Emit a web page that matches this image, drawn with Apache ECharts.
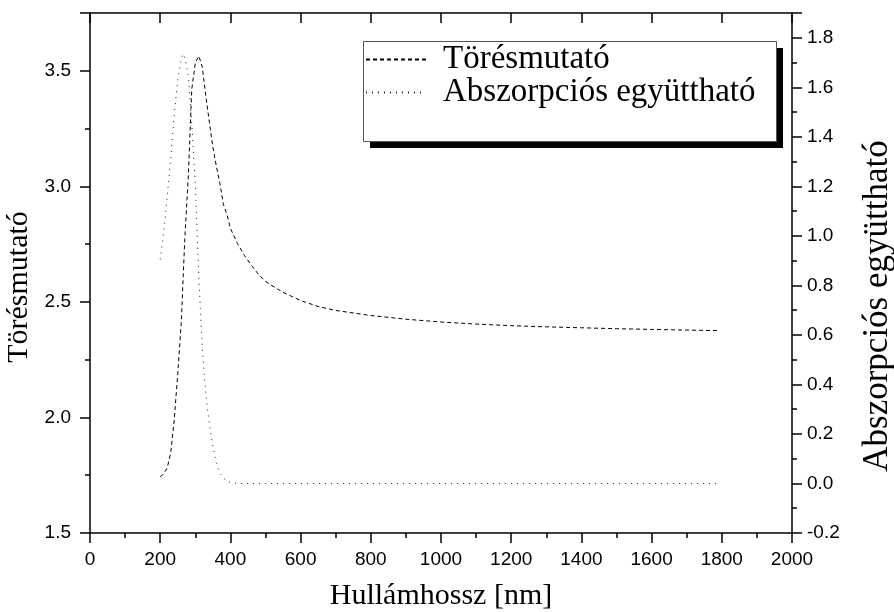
<!DOCTYPE html>
<html><head><meta charset="utf-8">
<script src="https://cdn.jsdelivr.net/npm/echarts@6/dist/echarts.min.js"></script>
<style>html,body{margin:0;padding:0;background:#fff}#c{width:894px;height:612px}</style>
</head><body><div id="c"></div>
<script>
// Törésmutató (refractive index), left axis
const nWavelengths = [200,210,220,230,240,250,260,270,280,290,300,310,320,330,340,350,360,370,380,390,400,420,440,460,480,500,550,600,650,700,800,900,1000,1100,1200,1300,1400,1500,1600,1700,1790];
const nValues = [1.743,1.756,1.782,1.847,1.990,2.190,2.410,2.771,3.040,3.421,3.534,3.564,3.516,3.391,3.278,3.170,3.087,3.013,2.922,2.879,2.818,2.753,2.701,2.658,2.619,2.588,2.541,2.506,2.480,2.463,2.441,2.425,2.413,2.404,2.397,2.392,2.388,2.384,2.381,2.378,2.376];
// Abszorpciós együttható (absorption coefficient), right axis
const kWavelengths = [200,210,220,230,240,250,260,265,270,280,290,300,310,320,330,340,350,360,370,380,390,400,420,500,600,700,800,900,1000,1100,1200,1300,1400,1500,1600,1700,1790];
const kValues = [0.905,1.014,1.159,1.312,1.490,1.630,1.715,1.735,1.720,1.650,1.450,1.211,0.833,0.546,0.356,0.240,0.151,0.082,0.042,0.022,0.010,0.004,0.000,0.000,0.000,0.000,0.000,0.000,0.000,0.000,0.000,0.000,0.000,0.000,0.000,0.000,0.000];
const seriesNames = ['Törésmutató','Abszorpciós együttható'];
const xTitle = 'Hullámhossz [nm]';
const xRange = [0, 2000, 200];
const yLeftRange = [1.5, 3.75, 0.5];
const yRightRange = [-0.2, 1.9, 0.2];

const nData = nWavelengths.map((w,i)=>[w,nValues[i]]);
const kData = kWavelengths.map((w,i)=>[w,kValues[i]]);

const labelFont = {fontFamily:'Liberation Sans', fontSize:19, color:'#000'};
const titleFont = {fontFamily:'Liberation Serif', fontSize:30, color:'#000'};
const axLine = {show:true, onZero:false, lineStyle:{color:'#000', width:1.5}};

const chart = echarts.init(document.getElementById('c'), null, {renderer:'canvas'});
chart.setOption({
  backgroundColor:'#fff',
  animation:false,
  grid:{left:90, right:102, top:13, bottom:79, containLabel:false, outerBoundsMode:'none'},
  xAxis:[{
    type:'value', min:xRange[0], max:xRange[1], interval:xRange[2], position:'bottom',
    name:xTitle, nameLocation:'middle', nameGap:48, nameTextStyle:titleFont,
    axisLine:axLine,
    axisTick:{show:true, inside:false, length:10, lineStyle:{color:'#000', width:1.5}},
    minorTick:{show:true, splitNumber:2, length:5, lineStyle:{color:'#000', width:1.5}},
    axisLabel:Object.assign({margin:17, formatter:v=>String(v)}, labelFont),
    splitLine:{show:false}
  },{
    type:'value', min:xRange[0], max:xRange[1], interval:xRange[2], position:'top',
    axisLine:axLine,
    axisTick:{show:true, inside:true, length:10, lineStyle:{color:'#000', width:1.5}},
    minorTick:{show:false},
    axisLabel:{show:false}, splitLine:{show:false}
  }],
  yAxis:[{
    type:'value', min:yLeftRange[0], max:yLeftRange[1], interval:yLeftRange[2], position:'left',
    name:seriesNames[0], nameLocation:'middle', nameGap:51, nameRotate:90,
    nameTextStyle:Object.assign({padding:[0,28,0,0]}, titleFont),
    axisLine:axLine,
    axisTick:{show:true, inside:false, length:10, lineStyle:{color:'#000', width:1.5}},
    minorTick:{show:true, splitNumber:2, length:5, lineStyle:{color:'#000', width:1.5}},
    axisLabel:Object.assign({margin:19, showMaxLabel:false, formatter:v=>v.toFixed(1)}, labelFont),
    splitLine:{show:false}
  },{
    type:'value', min:yRightRange[0], max:yRightRange[1], interval:yRightRange[2], position:'right',
    name:seriesNames[1], nameLocation:'middle', nameGap:68, nameRotate:90,
    nameTextStyle:Object.assign({}, titleFont, {fontSize:35, padding:[0,66,0,0]}),
    axisLine:axLine,
    axisTick:{show:true, inside:false, length:10, lineStyle:{color:'#000', width:1.5}},
    minorTick:{show:true, splitNumber:2, length:5, lineStyle:{color:'#000', width:1.5}},
    axisLabel:Object.assign({margin:15, showMaxLabel:false, formatter:v=>v.toFixed(1)}, labelFont),
    splitLine:{show:false}
  }],
  legend:{
    orient:'vertical', left:365, top:43, padding:0, itemGap:0, itemWidth:60, itemHeight:33,
    itemStyle:{opacity:0},
    textStyle:{fontFamily:'Liberation Serif', fontSize:33, color:'#000', lineHeight:33, padding:[0,0,0,12]},
    data:seriesNames, z:10, selectedMode:false
  },
  graphic:[
    {type:'rect', left:370, top:48, shape:{width:413, height:100}, style:{fill:'#000'}, z:5, silent:true},
    {type:'rect', left:363, top:41, shape:{width:413, height:100}, style:{fill:'#fff', stroke:'#555', lineWidth:1}, z:6, silent:true}
  ],
  series:[{
    name:seriesNames[0], type:'line', xAxisIndex:0, yAxisIndex:0, data:nData,
    symbol:'none', smooth:false, color:'#000',
    lineStyle:{color:'#000', width:1, type:[4,3]}
  },{
    name:seriesNames[1], type:'line', xAxisIndex:0, yAxisIndex:1, data:kData,
    symbol:'none', smooth:false, color:'#222',
    lineStyle:{color:'#222', width:1, type:[1,5]}
  }]
});
</script></body></html>
